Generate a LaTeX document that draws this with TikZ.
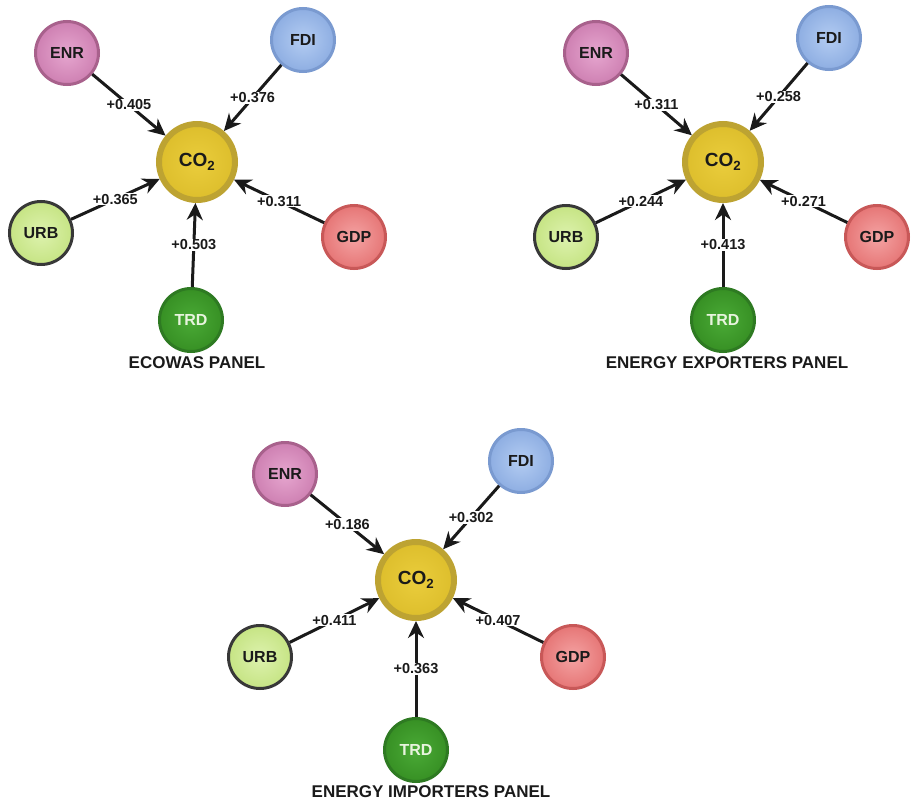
\documentclass[tikz,border=0pt]{standalone}
\usepackage{fontspec}
\setmainfont{Liberation Sans}
\usetikzlibrary{arrows.meta}
\definecolor{txt}{HTML}{1A1A1A}
\definecolor{enrin}{HTML}{E6A6CF}
\definecolor{enrout}{HTML}{CE80B2}
\definecolor{enrdraw}{HTML}{A8618C}
\definecolor{fdiin}{HTML}{B3CCF2}
\definecolor{fdiout}{HTML}{8EAEE2}
\definecolor{fdidraw}{HTML}{7A9AD0}
\definecolor{urbin}{HTML}{DDF2AE}
\definecolor{urbout}{HTML}{C6E484}
\definecolor{urbdraw}{HTML}{383838}
\definecolor{gdpin}{HTML}{F4A3A3}
\definecolor{gdpout}{HTML}{E67676}
\definecolor{gdpdraw}{HTML}{C85858}
\definecolor{trdin}{HTML}{4AAA36}
\definecolor{trdout}{HTML}{379024}
\definecolor{trddraw}{HTML}{2E7A22}
\definecolor{trdtxt}{HTML}{E8F4DE}
\definecolor{coin}{HTML}{EACD3C}
\definecolor{coout}{HTML}{DDBE2C}
\definecolor{codraw}{HTML}{BDA332}
\tikzset{
  var/.style={circle, minimum size=63pt, inner sep=0pt, line width=3pt, text=txt,
    font=\fontsize{16}{16}\selectfont\bfseries},
  enr/.style={var, inner color=enrin, outer color=enrout, draw=enrdraw},
  fdi/.style={var, inner color=fdiin, outer color=fdiout, draw=fdidraw},
  urb/.style={var, inner color=urbin, outer color=urbout, draw=urbdraw},
  gdp/.style={var, inner color=gdpin, outer color=gdpout, draw=gdpdraw},
  trd/.style={var, inner color=trdin, outer color=trdout, draw=trddraw, text=trdtxt},
  co/.style={circle, minimum size=76pt, inner sep=0pt, line width=6pt,
    inner color=coin, outer color=coout, draw=codraw,
    text=txt, font=\fontsize{19}{19}\selectfont\bfseries},
  arr/.style={line width=3pt, draw=txt, -{Stealth[length=17pt,width=16pt,inset=5.5pt]}},
  lbl/.style={fill=white, inner sep=1pt, text=txt, pos=0.5,
    font=\fontsize{14.5}{14.5}\selectfont\bfseries},
  ttl/.style={text=txt, font=\fontsize{17}{17}\selectfont\bfseries}
}
\newcommand{\cotwo}{CO\textsubscript{2}}
\begin{document}
\begin{tikzpicture}[x=1pt,y=-1pt]
\useasboundingbox (0,0) rectangle (911,803);
% ---------- Panel 1: ECOWAS ----------
\node[co]  (a-co)  at (197,162) {\cotwo};
\node[enr] (a-enr) at (67,53)   {ENR};
\node[fdi] (a-fdi) at (303,40)  {FDI};
\node[urb] (a-urb) at (41,233)  {URB};
\node[gdp] (a-gdp) at (354,237) {GDP};
\node[trd] (a-trd) at (191,320) {TRD};
\node[ttl] (a-ttl) at (197,363) {ECOWAS PANEL};
\draw[arr] (a-enr) -- node[lbl] {+0.405} (a-co);
\draw[arr] (a-fdi) -- node[lbl] {+0.376} (a-co);
\draw[arr] (a-urb) -- node[lbl] {+0.365} (a-co);
\draw[arr] (a-gdp) -- node[lbl] {+0.311} (a-co);
\draw[arr] (a-trd) -- node[lbl] {+0.503} (a-co);
% ---------- Panel 2: Energy exporters ----------
\node[co]  (b-co)  at (723,162) {\cotwo};
\node[enr] (b-enr) at (596,53)  {ENR};
\node[fdi] (b-fdi) at (829,38)  {FDI};
\node[urb] (b-urb) at (566,237) {URB};
\node[gdp] (b-gdp) at (877,237) {GDP};
\node[trd] (b-trd) at (723,320) {TRD};
\node[ttl] (b-ttl) at (727,363) {ENERGY EXPORTERS PANEL};
\draw[arr] (b-enr) -- node[lbl] {+0.311} (b-co);
\draw[arr] (b-fdi) -- node[lbl] {+0.258} (b-co);
\draw[arr] (b-urb) -- node[lbl] {+0.244} (b-co);
\draw[arr] (b-gdp) -- node[lbl] {+0.271} (b-co);
\draw[arr] (b-trd) -- node[lbl] {+0.413} (b-co);
% ---------- Panel 3: Energy importers ----------
\node[co]  (c-co)  at (416,580) {\cotwo};
\node[enr] (c-enr) at (285,474) {ENR};
\node[fdi] (c-fdi) at (521,461) {FDI};
\node[urb] (c-urb) at (260,657) {URB};
\node[gdp] (c-gdp) at (573,657) {GDP};
\node[trd] (c-trd) at (416,750) {TRD};
\node[ttl] (c-ttl) at (431,792) {ENERGY IMPORTERS PANEL};
\draw[arr] (c-enr) -- node[lbl] {+0.186} (c-co);
\draw[arr] (c-fdi) -- node[lbl] {+0.302} (c-co);
\draw[arr] (c-urb) -- node[lbl] {+0.411} (c-co);
\draw[arr] (c-gdp) -- node[lbl] {+0.407} (c-co);
\draw[arr] (c-trd) -- node[lbl] {+0.363} (c-co);
\end{tikzpicture}
\end{document}
